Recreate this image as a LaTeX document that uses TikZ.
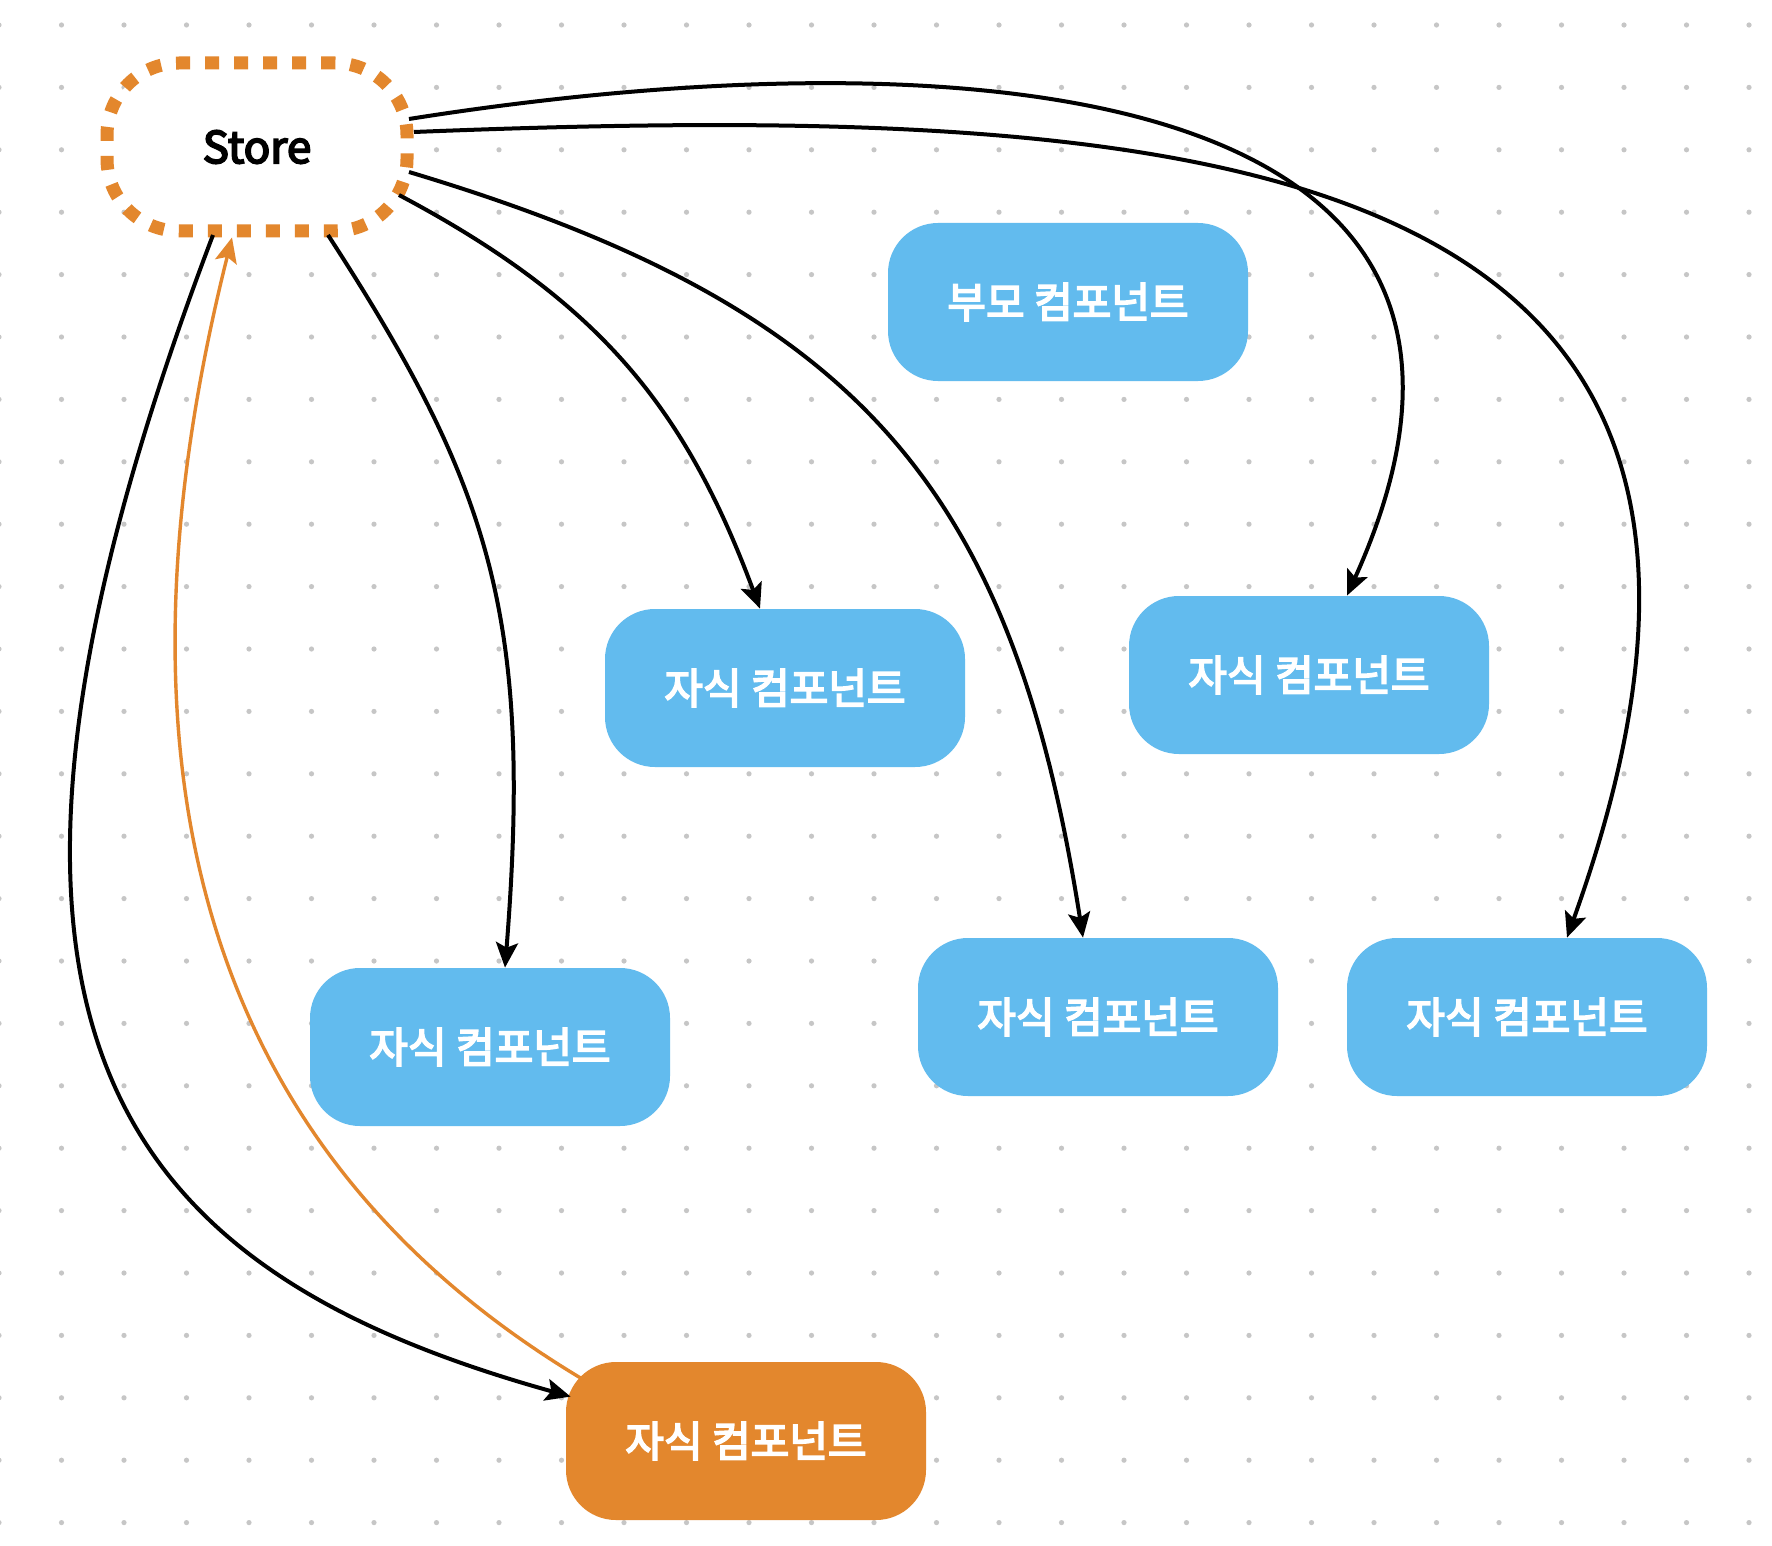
\documentclass[tikz,border=0pt]{standalone}
\usepackage{fontspec}
\setmainfont{Noto Sans CJK KR}[BoldFont={Noto Sans CJK KR}, BoldFeatures={FakeBold=4}]
\usetikzlibrary{arrows.meta,calc}
\definecolor{boxblue}{HTML}{62BBEE}
\definecolor{storeorange}{HTML}{E3872D}
\definecolor{dotgray}{HTML}{C6C6C6}
\begin{document}
\begin{tikzpicture}[x=0.5pt,y=-0.5pt,
  comp/.style={rectangle, rounded corners=25pt, fill=boxblue, minimum width=180pt, minimum height=79pt, inner sep=0pt, text=white, font=\fontsize{21pt}{24pt}\selectfont\bfseries},
  storebox/.style={rectangle, rounded corners=36pt, draw=storeorange, line width=6.5pt, dash pattern=on 7pt off 7.5pt, fill=white, minimum width=150pt, minimum height=84pt, inner sep=0pt, font=\fontsize{22pt}{26pt}\selectfont\bfseries},
  link/.style={line width=2pt, -{Stealth[length=12.5pt,width=11pt,inset=2.5pt]}},
  backlink/.style={draw=storeorange, line width=1.7pt, -{Stealth[length=12.5pt,width=11pt,inset=2.5pt]}, color=storeorange}
]
\useasboundingbox (0,0) rectangle (1772,1546);
\fill[white] (0,0) rectangle (1772,1546);
\foreach \i in {0,...,28} {
  \foreach \j in {0,...,24} {
    \fill[dotgray] ({62.5*\i-1},{25+62.4*\j}) circle (1.3pt);
  }
}
\node[storebox] (store) at (257,147) {Store};
\node[comp] (p) at (1068,302) {부모 컴포넌트};
\node[comp] (c1) at (785,688) {자식 컴포넌트};
\node[comp] (c2) at (1309,675) {자식 컴포넌트};
\node[comp] (c3) at (490,1047) {자식 컴포넌트};
\node[comp] (c4) at (1098,1017) {자식 컴포넌트};
\node[comp] (c5) at (1527,1017) {자식 컴포넌트};
\node[comp, fill=storeorange] (c6) at (746,1441) {자식 컴포넌트};

\draw[link] ($(store.center)+(152,-28)$) .. controls (970,30) and (1580,80) .. ($(c2.north)+(38,0)$);
\draw[link] ($(store.center)+(157,-15)$) .. controls (1214,100) and (1850,150) .. ($(c5.north)+(40,0)$);
\draw[link] ($(store.center)+(152,25)$) .. controls (859,307) and (1012,486) .. ($(c4.north)+(-15,0)$);
\draw[link] ($(store.center)+(142,48)$) .. controls (599,301) and (685,407) .. ($(c1.north)+(-25,0)$);
\draw[link] ($(store.center)+(71,88)$) .. controls (490,485) and (533,616) .. ($(c3.north)+(15,0)$);
\draw[link] ($(store.center)+(-44,88)$) .. controls (-91,1035) and (121,1271) .. ($(c6.north west)+(5,35)$);
\draw[backlink] ($(c6.north west)+(16,17)$) .. controls (182,1139) and (107,737) .. ($(store.south)+(-25,0)$);
\end{tikzpicture}
\end{document}
